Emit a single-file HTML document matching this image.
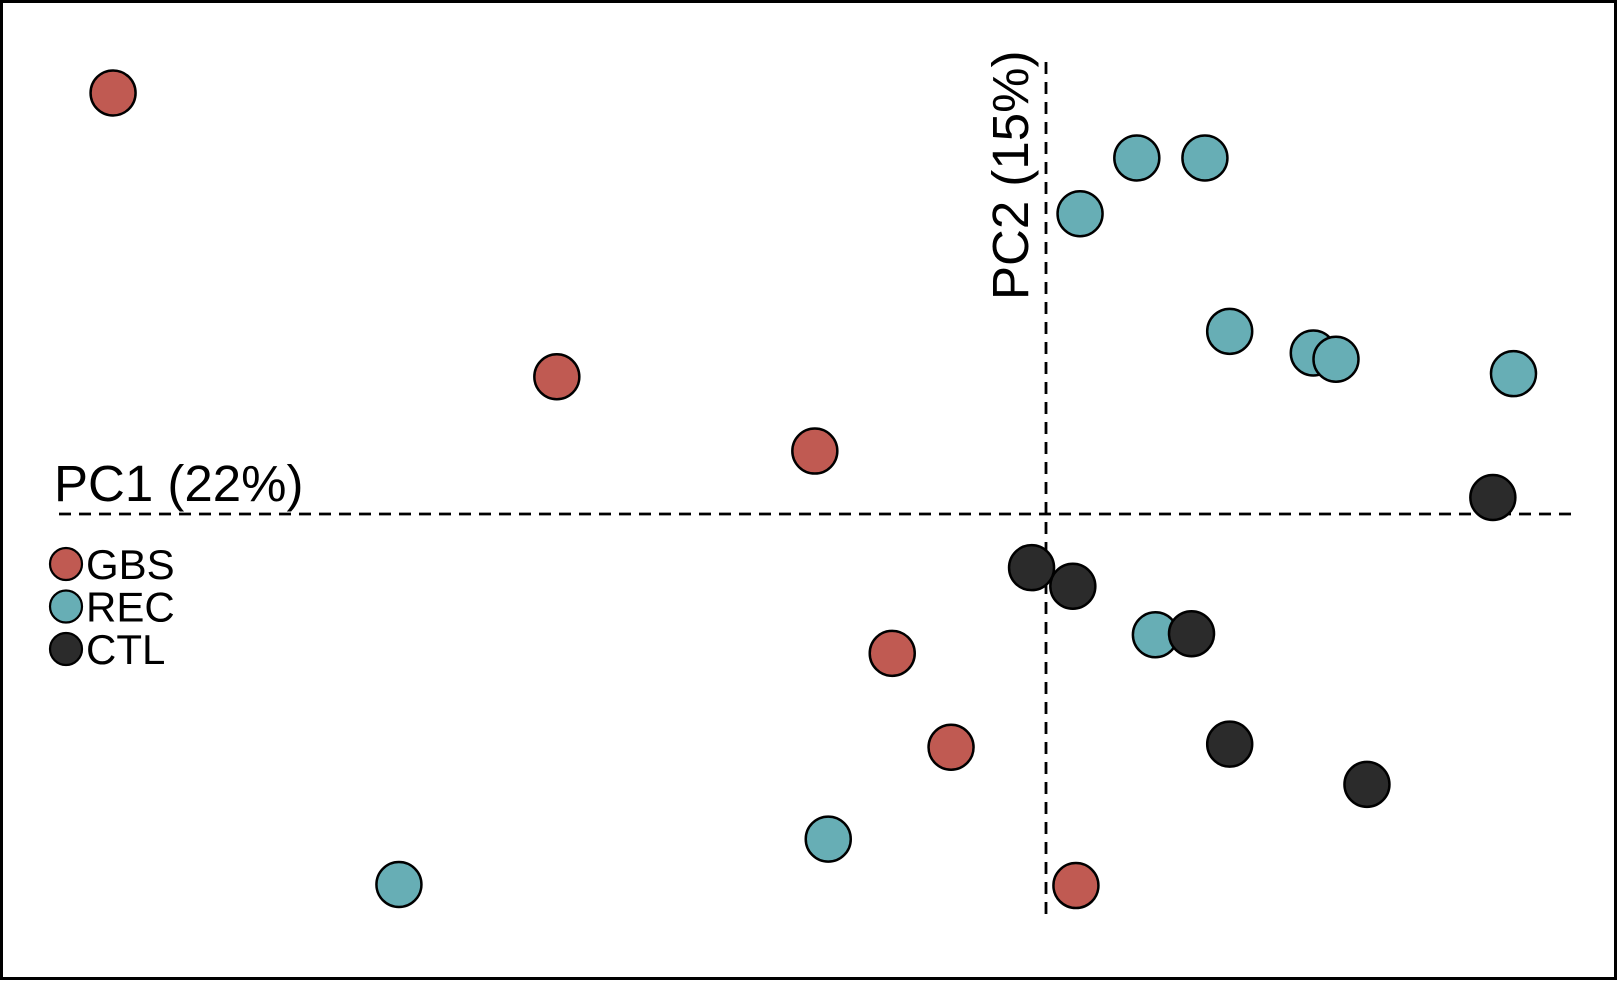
<!DOCTYPE html>
<html><head><meta charset="utf-8"><style>
html,body{margin:0;padding:0;background:#fff;}
svg{display:block;font-family:"Liberation Sans",Arial,sans-serif;}
</style></head><body>
<svg id="chart" width="1618" height="981" viewBox="0 0 1618 981">
<rect x="1.5" y="1.5" width="1614" height="977" fill="#fff" stroke="#000" stroke-width="3"/>
<g id="axes"></g>
<g id="points"></g>
<g id="legend"></g>
</svg>
<script>
const groups = ["GBS","REC","CTL"];
const colors = ["#c05a52","#67aeb5","#2b2b2b"];
const gbsPC1 = [-90.4,-47.4,-22.4,-14.9,-9.2,2.9];
const gbsPC2 = [40.8,13.3,6.1,-13.5,-22.6,-36.0];
const recPC1 = [8.8,15.4,3.3,17.8,25.9,28.1,45.3,10.6,-21.1,-62.7];
const recPC2 = [34.5,34.5,29.1,17.7,15.6,15.0,13.6,-11.7,-31.5,-35.9];
const ctlPC1 = [43.3,-1.4,2.6,14.1,17.8,31.1];
const ctlPC2 = [1.6,-5.2,-7.0,-11.6,-22.3,-26.2];
const axisLabels = ["PC1 (22%)","PC2 (15%)"];

const NS="http://www.w3.org/2000/svg";
const ox=1046, oy=514, k=10.32;
function xs(v){return ox+v*k;}
function ys(v){return oy-v*k;}
function mk(tag,attrs,parent){const e=document.createElementNS(NS,tag);for(const a in attrs)e.setAttribute(a,attrs[a]);parent.appendChild(e);return e;}

const axes=document.getElementById('axes');
let l1=mk('line',{x1:59,y1:ys(0),x2:1571,y2:ys(0),stroke:'#000','stroke-width':2.8,'stroke-dasharray':'12,8'},axes);


let l2=mk('line',{x1:xs(0),y1:62,x2:xs(0),y2:918,stroke:'#000','stroke-width':2.8,'stroke-dasharray':'12,8'},axes);


let t1=mk('text',{x:54,y:501,'font-size':51,fill:'#000'},axes);
t1.textContent=axisLabels[0];


let t2=mk('text',{x:0,y:0,'font-size':51,fill:'#000',transform:'translate(1028,300) rotate(-90)'},axes);
t2.textContent=axisLabels[1];



const pts=document.getElementById('points');
const series=[[gbsPC1,gbsPC2],[recPC1,recPC2],[ctlPC1,ctlPC2]];
series.forEach((s,gi)=>{
  s[0].forEach((v,i)=>{
    const c=mk('circle',{cx:xs(v),cy:ys(s[1][i]),r:22.5,fill:colors[gi],stroke:'#000','stroke-width':2.5},pts);
    
    
  });
});

const leg=document.getElementById('legend');
groups.forEach((g,i)=>{
  const y=564+i*42.5;
  const c=mk('circle',{cx:66,cy:y,r:16,fill:colors[i],stroke:'#000','stroke-width':2.2},leg);
  
  
  const t=mk('text',{x:86,y:y+15,'font-size':42,fill:'#000'},leg);
  t.textContent=g;
  
  
});
</script>
</body></html>
